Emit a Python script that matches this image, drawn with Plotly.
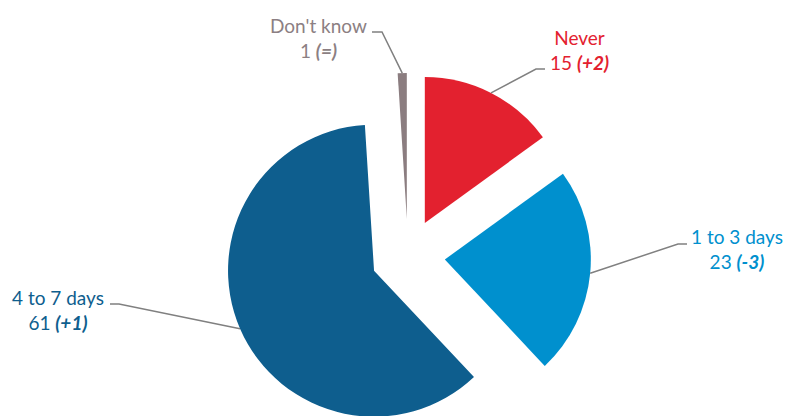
import math
import plotly.graph_objects as go

# ---- data ----
categories = ["Never", "1 to 3 days", "4 to 7 days", "Don't know"]
values = [15, 23, 61, 1]
changes = ["(+2)", "(-3)", "(+1)", "(=)"]
colors = ["#E3212F", "#0090CE", "#0E5E8E", "#8B7D80"]
text_colors = ["#E3212F", "#0090CE", "#0E5E8E", "#8C7F83"]

# ---- layout geometry (pixels) ----
W, H = 787, 440
CX, CY = 408, 256          # pie centre
R, D = 146, 37             # radius and pull distance
pull = D / R
half = R + D

def px(x):
    return x / W

def py(y):
    return 1 - y / H

fig = go.Figure(go.Pie(
    labels=categories,
    values=values,
    sort=False,
    direction="clockwise",
    rotation=0,
    pull=[pull] * len(values),
    marker=dict(colors=colors, line=dict(width=0)),
    textinfo="none",
    hoverinfo="label+value",
    showlegend=False,
    domain=dict(x=[px(CX - half), px(CX + half)], y=[py(CY + half), py(CY - half)]),
))

# label positions (centre of text block) and elbow points
label_pos = [(579, 50), (737, 249), (58, 310), (318, 38)]
elbows = [((545, 69), (536, 69)), ((687, 244), (678, 244)),
          ((110, 304), (119, 304)), ((372, 32), (382, 32))]

total = sum(values)
cum = 0
for i, (cat, v) in enumerate(zip(categories, values)):
    mid = (cum + v / 2) / total * 2 * math.pi
    cum += v
    ex = CX + (R + D) * math.sin(mid)
    ey = CY - (R + D) * math.cos(mid)
    (x0, y0), (x1, y1) = elbows[i]
    fig.add_shape(type="path",
                  path=f"M {px(x0)} {py(y0)} L {px(x1)} {py(y1)} L {px(ex)} {py(ey)}",
                  xref="paper", yref="paper",
                  line=dict(color="#808080", width=1.5))
    lx, ly = label_pos[i]
    fig.add_annotation(x=px(lx), y=py(ly), xref="paper", yref="paper",
                       text=f"{cat}<br>{v} <b><i>{changes[i]}</i></b>",
                       showarrow=False, xanchor="center", yanchor="middle",
                       align="center",
                       font=dict(family="Lato", size=19, color=text_colors[i]))

fig.update_layout(width=W, height=H, margin=dict(l=0, r=0, t=0, b=0),
                  paper_bgcolor="white", plot_bgcolor="white")

fig.write_html("out.html", config={"displayModeBar": False},
               post_script="document.body.style.margin='0';document.body.style.overflow='hidden';")
